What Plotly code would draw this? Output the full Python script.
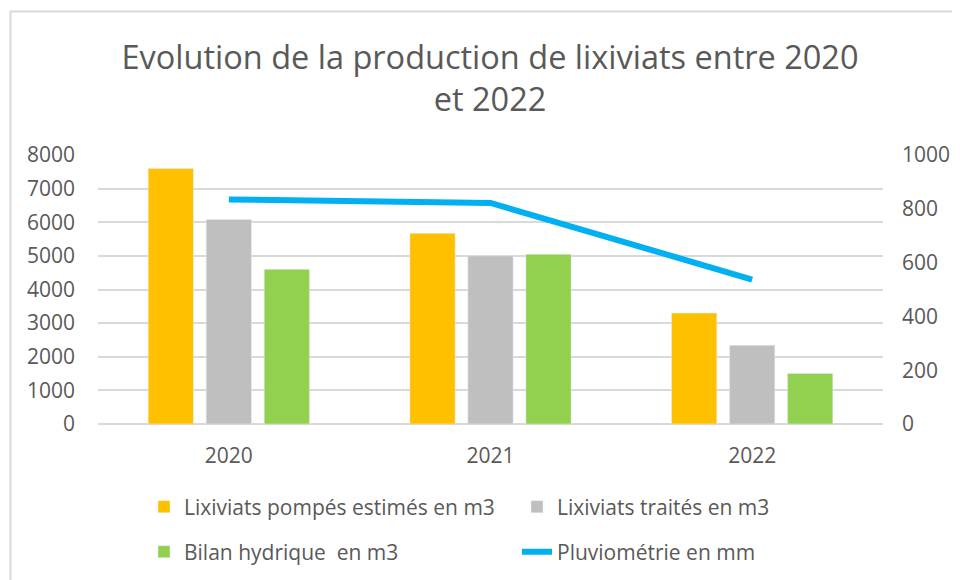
import plotly.graph_objects as go

categories = ["2020", "2021", "2022"]
pompes = [7600, 5670, 3300]
traites = [6080, 5000, 2340]
bilan = [4600, 5050, 1500]
pluvio = [835, 822, 537]

left_ticks = [0, 1000, 2000, 3000, 4000, 5000, 6000, 7000, 8000]
right_ticks = [0, 200, 400, 600, 800, 1000]

FONT = "Open Sans"
TXT = "#595959"

# page body has an 8px margin, so the figure is 952x572 inside a 960x580 window
W, H = 952, 572
L, R, T, B = 90, 77, 147, 156
pw, ph = W - L - R, H - T - B


def px2x(px):
    return (px - L) / pw


def py2y(py):
    return (H - B - py) / ph


fig = go.Figure()
fig.add_trace(go.Bar(x=categories, y=pompes, name="Lixiviats pompés estimés en m3",
                     marker=dict(color="#FFC000"), legend="legend"))
fig.add_trace(go.Bar(x=categories, y=traites, name="Lixiviats traités en m3",
                     marker=dict(color="#BFBFBF"), legend="legend"))
fig.add_trace(go.Bar(x=categories, y=bilan, name="Bilan hydrique  en m3",
                     marker=dict(color="#92D050"), legend="legend2"))
fig.add_trace(go.Scatter(x=categories, y=pluvio, name="Pluviométrie en mm", mode="lines",
                         line=dict(color="#00B0F0", width=6), yaxis="y2", legend="legend2"))

legend_common = dict(orientation="h", xanchor="left", yanchor="middle",
                     font=dict(family=FONT, size=21, color=TXT),
                     entrywidth=328, entrywidthmode="pixels",
                     bgcolor="rgba(0,0,0,0)", itemwidth=30)

fig.update_layout(
    width=W, height=H,
    margin=dict(l=L, r=R, t=T, b=B, autoexpand=False),
    paper_bgcolor="white", plot_bgcolor="white",
    title=dict(text="Evolution de la production de lixiviats entre 2020<br>et 2022",
               x=px2x(482), xanchor="center", xref="paper",
               y=1 - 61 / H, yanchor="middle",
               font=dict(family=FONT, size=32.5, color=TXT)),
    barmode="group", bargap=0.335, bargroupgap=0.22,
    xaxis=dict(type="category", range=[-0.5, 2.5], showgrid=False, showline=False,
               ticks="", tickfont=dict(family=FONT, size=21, color=TXT),
               ticklabelstandoff=17, automargin=False),
    yaxis=dict(range=[0, 8000], tickvals=left_ticks, showgrid=True,
               gridcolor="#D9D9D9", gridwidth=1.5, zeroline=True, zerolinecolor="#D9D9D9",
               zerolinewidth=1.5, showline=False, ticks="", automargin=False,
               tickfont=dict(family=FONT, size=21, color=TXT), ticklabelstandoff=22),
    yaxis2=dict(range=[0, 1000], tickvals=right_ticks, overlaying="y", side="right",
                showgrid=False, zeroline=False, showline=False, ticks="", automargin=False,
                tickfont=dict(family=FONT, size=21, color=TXT), ticklabelstandoff=18),
    legend=dict(x=px2x(136), y=py2y(499), **legend_common),
    legend2=dict(x=px2x(136), y=py2y(544), **legend_common),
    shapes=[dict(type="rect", xref="paper", yref="paper",
                 x0=px2x(2.5), x1=px2x(975), y0=py2y(3.5), y1=py2y(600),
                 line=dict(color="#D9D9D9", width=2), fillcolor="rgba(0,0,0,0)",
                 layer="below")],
)

fig.write_html("out.html")
